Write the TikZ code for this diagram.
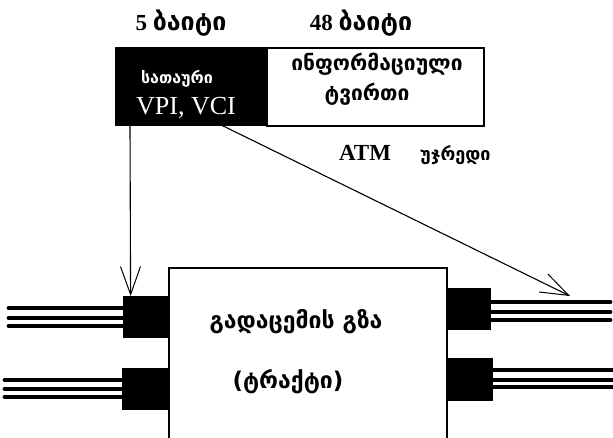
\documentclass[tikz,border=0pt]{standalone}
\usepackage{fontspec}
\setmainfont{Liberation Serif}
\newfontfamily\geo{DejaVu Sans}
\usetikzlibrary{positioning, arrows.meta, calc}

\tikzset{
  blk/.style={draw=black, fill=black, inner sep=0pt},
  wire/.style={line width=4pt, line cap=round},
  ptr/.style={line width=1.1pt, -{Straight Barb[length=28pt,width=20pt,line width=1pt]}},
  geotxt/.style={font=\geo\bfseries\fontsize{#1}{#1}\selectfont, inner sep=0pt, anchor=base},
  geotxt/.default=21,
  numtxt/.style={font=\bfseries\fontsize{23}{25}\selectfont, inner sep=0pt, anchor=base},
}

\begin{document}
\begin{tikzpicture}[x=1pt, y=-1pt]
  \useasboundingbox (0,0) rectangle (613,437);
  \clip (0,0) rectangle (613,437);

  % ATM cell
  \node[blk, minimum width=151, minimum height=78, anchor=north west] (hdr) at (115,47) {};
  \node[draw, line width=1.5pt, fill=white, inner sep=0pt, minimum width=217, minimum height=78,
        anchor=north west] (load) at (hdr.north east) {};
  \node[numtxt] (b5) at (181,30) {5 {\geo\fontsize{25}{25}\selectfont ბაიტი}};
  \node[numtxt] (b48) at (361,30) {48 {\geo\fontsize{25}{25}\selectfont ბაიტი}};
  \node[geotxt=16, text=white] (hdrtxt) at (177,83) {სათაური};
  \node[font=\fontsize{26}{28}\selectfont, text=white, inner sep=0pt, anchor=base] (vpi) at (186,114) {VPI, VCI};
  \node[geotxt] (loadtxt) at (377,70) {ინფორმაციული};
  \node[geotxt] (loadtxt2) at (367,100) {ტვირთი};
  \node[font=\bfseries\fontsize{23}{25}\selectfont, inner sep=0pt, anchor=base] (atm) at (365,160) {ATM};
  \node[geotxt=18, anchor=base west] (cell) at (420,160) {უჯრედი};

  % transmission path
  \node[draw, line width=1.5pt, inner sep=0pt, minimum width=278, minimum height=200,
        anchor=north west] (tract) at (168,267) {};
  \node[geotxt=23] (tr1) at (296,328) {გადაცემის გზა};
  \node[geotxt=23] (tr2) at (288,388) {(ტრაქტი)};

  % ports
  \node[blk, minimum width=45, minimum height=41, anchor=north east] (pL1) at (168,296) {};
  \node[blk, minimum width=46, minimum height=41, anchor=north east] (pL2) at (168,368) {};
  \node[blk, minimum width=44, minimum height=41, anchor=north west] (pR1) at (446,288) {};
  \node[blk, minimum width=46, minimum height=42, anchor=north west] (pR2) at (446,358) {};

  \foreach \dy in {12,22,30}
    \draw[wire] ($(pL1.north west)+(0,\dy)$) -- ++(-114,0);
  \foreach \dy in {12,21,29}
    \draw[wire] ($(pL2.north west)+(0,\dy)$) -- ++(-117,0);
  \foreach \dy in {14,24,32}
    \draw[wire] ($(pR1.north east)+(0,\dy)$) -- ++(120,0);
  \foreach \dy in {12,22,29}
    \draw[wire] ($(pR2.north east)+(0,\dy)$) -- ++(130,0);

  % pointers
  \coordinate (tipR) at (570,296);
  \draw[ptr] ($(hdr.south west)+(15,0)$) -- ($(pL1.north west)+(8,0)$);
  \draw[ptr] ($(hdr.south west)+(107,0)$) -- (tipR);
\end{tikzpicture}
\end{document}
